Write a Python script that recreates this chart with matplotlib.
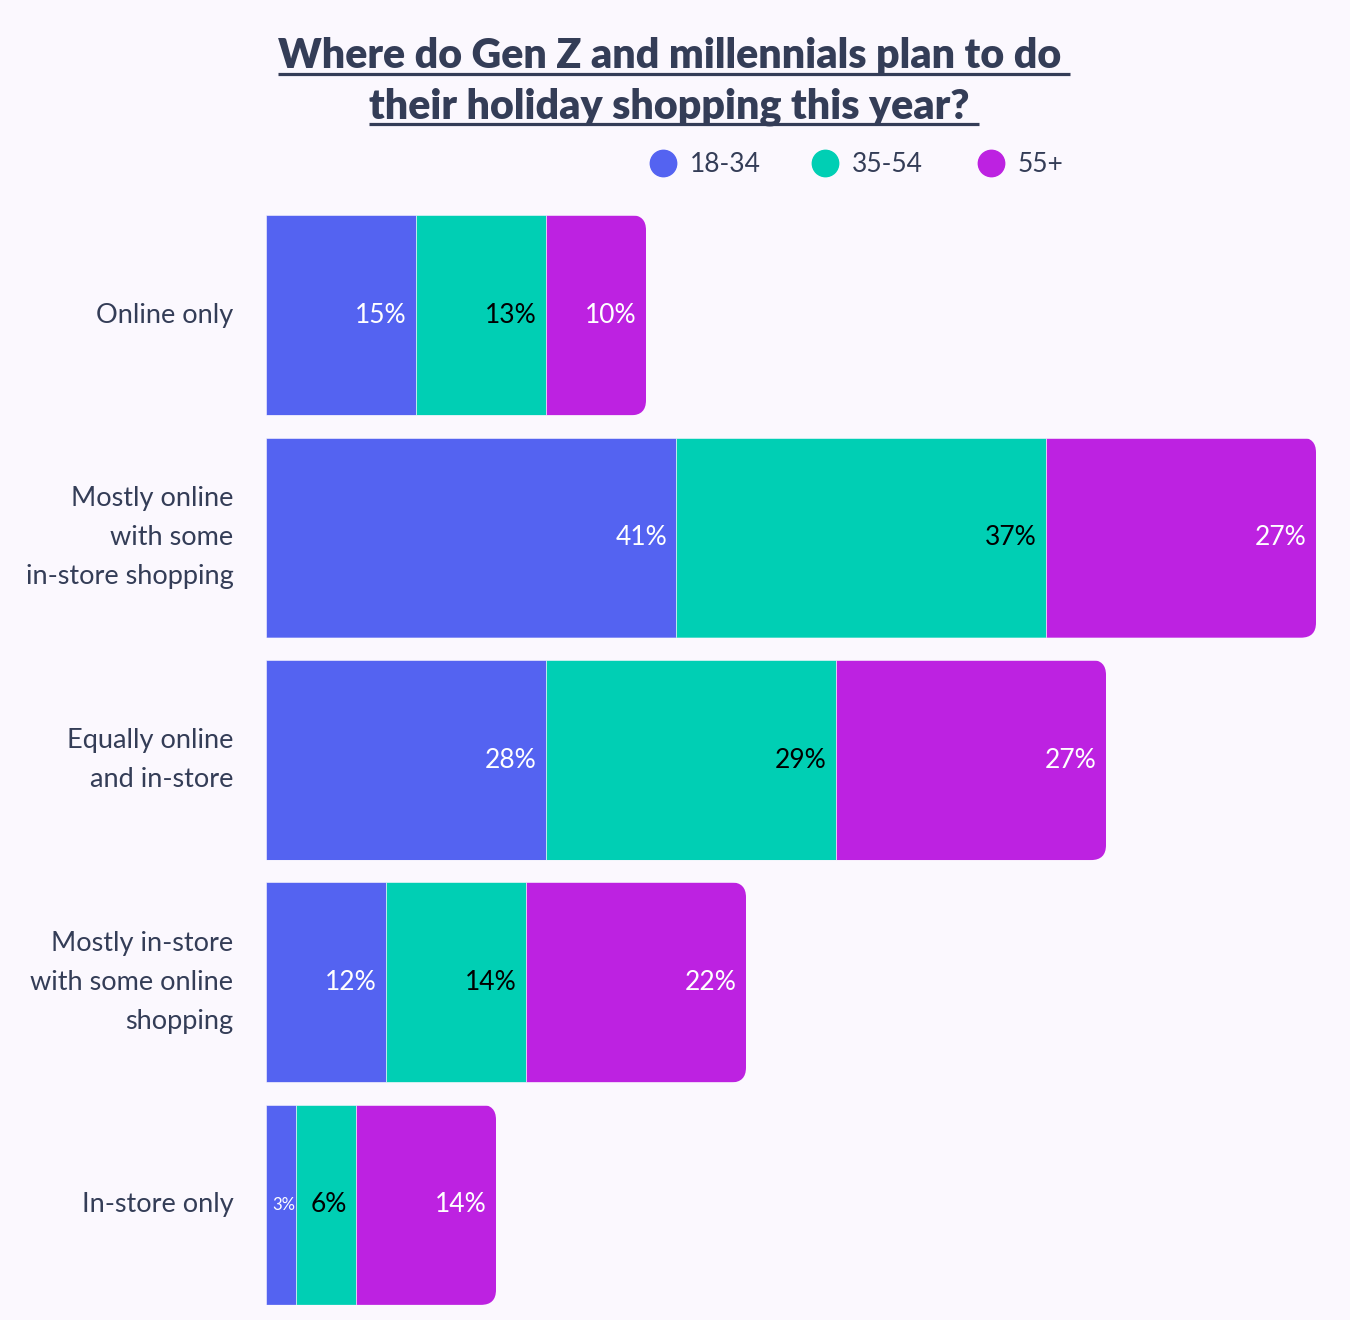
import matplotlib
matplotlib.use("Agg")
import matplotlib.pyplot as plt
from matplotlib.patches import FancyBboxPatch
from matplotlib.lines import Line2D
import matplotlib.transforms as mtransforms
import numpy as np

# ---------------- data ----------------
categories = [
    "Online only",
    "Mostly online\nwith some\nin-store shopping",
    "Equally online\nand in-store",
    "Mostly in-store\nwith some online\nshopping",
    "In-store only",
]
series_names = ["18-34", "35-54", "55+"]
v_18_34 = [15, 41, 28, 12, 3]
v_35_54 = [13, 37, 29, 14, 6]
v_55_plus = [10, 27, 27, 22, 14]
title_lines = ["Where do Gen Z and millennials plan to do ",
               "their holiday shopping this year? "]

# ---------------- style ----------------
BG = "#FBF8FE"
TXT = "#343D57"
colors = ["#5463F1", "#00CFB4", "#BD22E1"]
label_colors = ["white", "black", "white"]
FONT = ["Lato", "DejaVu Sans"]
plt.rcParams["font.family"] = FONT

W, H = 1350, 1320
fig = plt.figure(figsize=(W / 100, H / 100), dpi=100, facecolor=BG)
ax_left, ax_right, ax_top, ax_bot = 266, 1340, 204, 1316
ax = fig.add_axes([ax_left / W, (H - ax_bot) / H, (ax_right - ax_left) / W, (ax_bot - ax_top) / H])
ax.set_facecolor(BG)
xmax = (ax_right - ax_left) / 10.0
ax.set_xlim(0, xmax)
ax.set_ylim(len(categories) - 0.5, -0.5)
for s in ax.spines.values():
    s.set_visible(False)
ax.set_xticks([])

series = [np.array(v_18_34), np.array(v_35_54), np.array(v_55_plus)]
y = np.arange(len(categories))
bar_h = 0.9
totals = sum(series)

px_per_x = (ax_right - ax_left) / xmax
px_per_y = (ax_bot - ax_top) / len(categories)
aspect = px_per_x / px_per_y
radius = 1.5  # in x units (15 px)

# rounded clip shapes (only right corners visible; left part extends past 0)
clips = []
for i in range(len(categories)):
    p = FancyBboxPatch((-3 * radius, y[i] - bar_h / 2), totals[i] + 3 * radius, bar_h,
                       boxstyle=f"round,pad=0,rounding_size={radius}",
                       mutation_aspect=aspect, transform=ax.transData,
                       facecolor="none", edgecolor="none")
    clips.append(p)

left = np.zeros(len(categories))
for k, vals in enumerate(series):
    bars = ax.barh(y, vals, left=left, height=bar_h, color=colors[k],
                   edgecolor=BG, linewidth=0.4)
    for i, b in enumerate(bars):
        b.set_clip_path(clips[i])
    for i, v in enumerate(vals):
        small = v < 5
        tr = mtransforms.offset_copy(ax.transData, fig=fig,
                                     x=(-1 if small else -9), y=0, units="dots")
        ax.text(left[i] + v, y[i], f"{v}%", ha="right", va="center",
                color=label_colors[k], fontsize=(12 if small else 19),
                transform=tr)
    left = left + vals

ax.set_yticks(y)
ax.set_yticklabels(categories, fontsize=19.5, color=TXT, linespacing=1.7)
for lab in ax.get_yticklabels():
    lab.set_verticalalignment("center")
ax.tick_params(axis="y", length=0, pad=23.5)

# ---------------- title with underline ----------------
title_y = [68, 118]
renderer = fig.canvas.get_renderer()
for line, yy in zip(title_lines, title_y):
    t = fig.text(674 / W, 1 - yy / H, line, ha="center", va="baseline",
                 fontsize=29.6, fontweight="heavy", color=TXT)
    bb = t.get_window_extent(renderer=renderer)
    uy = 1 - (yy + 6) / H
    fig.add_artist(Line2D([bb.x0 / W, bb.x1 / W], [uy, uy],
                          transform=fig.transFigure, color=TXT, linewidth=2.3,
                          solid_capstyle="butt"))

# ---------------- legend ----------------
leg_x = [663, 825, 991]
leg_y = 163
for name, c, lx in zip(series_names, colors, leg_x):
    fig.add_artist(Line2D([lx / W], [1 - leg_y / H], marker="o", markersize=19,
                          markerfacecolor=c, markeredgecolor=c, linestyle="none",
                          transform=fig.transFigure))
    fig.text((lx + 27) / W, 1 - (leg_y + 1) / H, name, ha="left", va="center",
             fontsize=19, color=TXT)

fig.savefig("out.png", dpi=100, facecolor=BG)
